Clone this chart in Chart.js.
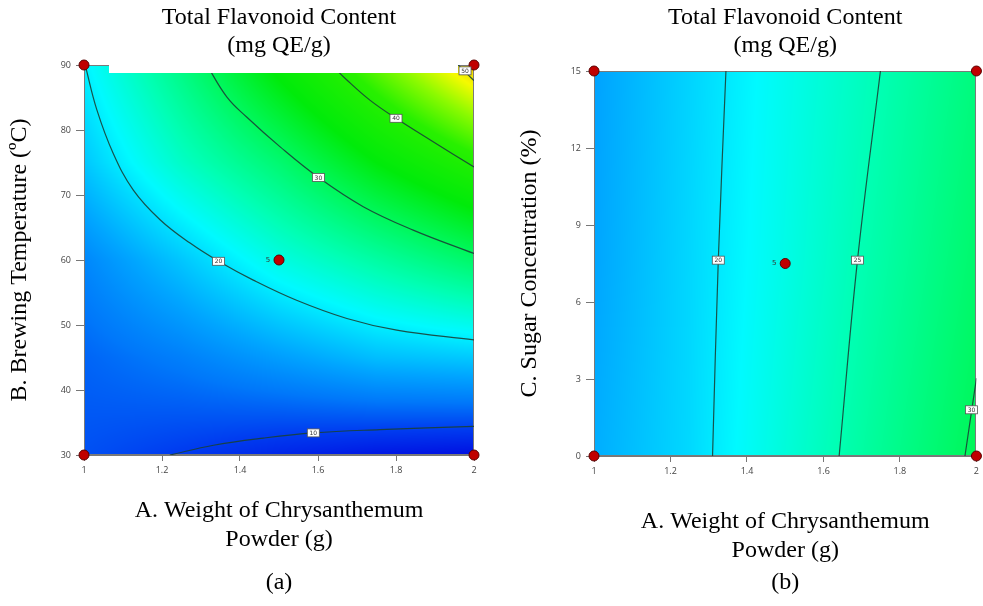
<!DOCTYPE html>
<html>
<head>
<meta charset="utf-8">
<script src="https://cdn.jsdelivr.net/npm/chart.js@4"></script>
<style>
  html, body { margin: 0; padding: 0; background: #fff; }
  .panel { position: absolute; top: 0; }
  #panelA { left: 0; }
  #panelB { left: 491px; }
</style>
</head>
<body>
<div class="panel" id="panelA"><canvas id="chartA" width="491" height="606"></canvas></div>
<div class="panel" id="panelB"><canvas id="chartB" width="492" height="606"></canvas></div>
<script>
// axis ticks
const weightTicks = [1, 1.2, 1.4, 1.6, 1.8, 2];
const tempTicks = [30, 40, 50, 60, 70, 80, 90];
const sugarTicks = [0, 3, 6, 9, 12, 15];

// response surface (TFC, mg QE/g)
const gridWeight = [1, 1.25, 1.5, 1.75, 2];
const gridTemp = [30, 45, 60, 75, 90];
const tfcByTemp = [
  [11, 9.8, 8.5, 7.5, 7],
  [12, 13.5, 15.5, 17.5, 18.2],
  [14, 18, 22.5, 26, 29.5],
  [18, 24, 29, 35, 40],
  [20.5, 28, 36, 43.5, 51]
];
const gridSugar = [0, 7.5, 15];
const tfcBySugar = [
  [16.5, 19.1, 23.0, 26.8, 30.5],
  [16, 19, 22.3, 25.8, 29.3],
  [15.8, 18.8, 21.9, 25, 28.3]
];

// contour lines (a)
const contourA10 = [{x: 1.22, y: 30}, {x: 1.332, y: 31.5}, {x: 1.46, y: 32.6}, {x: 1.588, y: 33.4}, {x: 1.759, y: 33.9}, {x: 2, y: 34.4}];
const contourA20 = [{x: 1.003, y: 90}, {x: 1.033, y: 83.1}, {x: 1.075, y: 76.4}, {x: 1.126, y: 70.8}, {x: 1.195, y: 66.2}, {x: 1.272, y: 62.6}, {x: 1.345, y: 59.8}, {x: 1.434, y: 56.9}, {x: 1.545, y: 53.8}, {x: 1.674, y: 51.0}, {x: 1.802, y: 49.2}, {x: 2, y: 47.7}];
const contourA30 = [{x: 1.315, y: 90}, {x: 1.366, y: 85.1}, {x: 1.417, y: 82.0}, {x: 1.503, y: 77.4}, {x: 1.601, y: 72.7}, {x: 1.716, y: 68.2}, {x: 1.844, y: 64.6}, {x: 2, y: 61.0}];
const contourA40 = [{x: 1.635, y: 90}, {x: 1.674, y: 87.7}, {x: 1.733, y: 84.6}, {x: 1.8, y: 81.8}, {x: 1.887, y: 78.5}, {x: 2, y: 74.3}];
const contourA50 = [{x: 1.96, y: 90}, {x: 1.981, y: 88.7}, {x: 2, y: 87.6}];
const labelsA = [
  {x: 1.588, y: 33.4, text: "10"},
  {x: 1.345, y: 59.8, text: "20"},
  {x: 1.601, y: 72.7, text: "30"},
  {x: 1.8, y: 81.8, text: "40"},
  {x: 1.977, y: 89.1, text: "50"}
];

// contour lines (b)
const contourB20 = [{x: 1.31, y: 0}, {x: 1.325, y: 7.63}, {x: 1.345, y: 15}];
const contourB25 = [{x: 1.641, y: 0}, {x: 1.689, y: 7.63}, {x: 1.749, y: 15}];
const contourB30 = [{x: 1.97, y: 0}, {x: 2, y: 3.03}];
const labelsB = [
  {x: 1.325, y: 7.63, text: "20"},
  {x: 1.689, y: 7.63, text: "25"},
  {x: 1.987, y: 1.8, text: "30"}
];

// design points, centre point replicated 5 times
const designA = [{x: 1, y: 30}, {x: 2, y: 30}, {x: 1, y: 90}, {x: 2, y: 90}, {x: 1.5, y: 60}];
const designB = [{x: 1, y: 0}, {x: 2, y: 0}, {x: 1, y: 15}, {x: 2, y: 15}, {x: 1.5, y: 7.5}];
const centreRuns = 5;

const colourStops = [
  [7, [0, 15, 225]], [10, [0, 60, 240]], [13, [0, 120, 250]], [16, [0, 165, 255]],
  [19, [0, 215, 255]], [21, [0, 250, 255]], [25, [0, 255, 180]], [30, [0, 248, 95]],
  [35, [0, 235, 10]], [41, [40, 240, 0]], [45, [140, 250, 0]], [48.5, [245, 250, 0]], [52, [240, 185, 0]]
];

function colourFor(v) {
  if (v <= colourStops[0][0]) return colourStops[0][1];
  for (let i = 1; i < colourStops.length; i++) {
    if (v <= colourStops[i][0]) {
      const [v0, c0] = colourStops[i - 1];
      const [v1, c1] = colourStops[i];
      const t = (v - v0) / (v1 - v0);
      return [0, 1, 2].map(k => c0[k] + (c1[k] - c0[k]) * t);
    }
  }
  return colourStops[colourStops.length - 1][1];
}

function cell(axis, v) {
  let i = 0;
  while (i < axis.length - 2 && v > axis[i + 1]) i++;
  const t = Math.min(1, Math.max(0, (v - axis[i]) / (axis[i + 1] - axis[i])));
  return [i, t];
}

function sample(gx, gy, grid, x, y) {
  const [i, tx] = cell(gx, x);
  const [j, ty] = cell(gy, y);
  const a = grid[j][i] + (grid[j][i + 1] - grid[j][i]) * tx;
  const b = grid[j + 1][i] + (grid[j + 1][i + 1] - grid[j + 1][i]) * tx;
  return a + (b - a) * ty;
}

function makeSurface(gx, gy, grid, band, labels) {
  return {
    id: "surface",
    beforeDatasetsDraw(chart) {
      const {ctx, chartArea: a, scales} = chart;
      const w = Math.round(a.right - a.left), h = Math.round(a.bottom - a.top);
      const off = document.createElement("canvas");
      off.width = w; off.height = h;
      const octx = off.getContext("2d");
      const img = octx.createImageData(w, h);
      for (let py = 0; py < h; py++) {
        const yv = scales.y.getValueForPixel(a.top + py + 0.5);
        for (let px = 0; px < w; px++) {
          const xv = scales.x.getValueForPixel(a.left + px + 0.5);
          const c = colourFor(sample(gx, gy, grid, xv, yv));
          const k = (py * w + px) * 4;
          img.data[k] = c[0]; img.data[k + 1] = c[1]; img.data[k + 2] = c[2]; img.data[k + 3] = 255;
        }
      }
      octx.putImageData(img, 0, 0);
      ctx.drawImage(off, a.left, a.top);
      ctx.save();
      ctx.strokeStyle = "#7a7a7a";
      ctx.lineWidth = 1;
      ctx.strokeRect(a.left + 0.5, a.top + 0.5, w - 1, h - 1);
      ctx.restore();
    },
    afterDatasetsDraw(chart) {
      const {ctx, chartArea: a, scales} = chart;
      ctx.save();
      if (band) {
        ctx.fillStyle = "#fff";
        ctx.fillRect(a.left + band[0], a.top - 1, (a.right - a.left) - band[0] - band[1], band[2] + 1);
      }
      ctx.font = "6px 'DejaVu Sans'";
      ctx.textAlign = "center";
      ctx.textBaseline = "middle";
      labels.forEach(l => {
        const px = scales.x.getPixelForValue(l.x);
        const py = scales.y.getPixelForValue(l.y);
        ctx.fillStyle = "#fff";
        ctx.fillRect(px - 6, py - 4, 12, 8);
        ctx.strokeStyle = "#555";
        ctx.lineWidth = 0.8;
        ctx.strokeRect(px - 6, py - 4, 12, 8);
        ctx.fillStyle = "#333";
        ctx.fillText(l.text, px, py + 0.5);
      });
      // replicate count beside the centre point
      const pts = chart.data.datasets[0].data;
      const c = pts[pts.length - 1];
      ctx.font = "7px 'DejaVu Sans'";
      ctx.fillStyle = "#333";
      ctx.fillText(String(centreRuns), scales.x.getPixelForValue(c.x) - 11, scales.y.getPixelForValue(c.y));
      ctx.restore();
    }
  };
}

const serif = {family: "'Liberation Serif', 'Times New Roman', serif", size: 24, weight: "normal"};
const tickFont = {family: "'Open Sans', sans-serif", size: 9};
const lineColour = "rgba(25, 65, 55, 0.9)";

function contourSet(points) {
  return {data: points, showLine: true, pointRadius: 0, borderColor: lineColour, borderWidth: 1.2, tension: 0.4, fill: false};
}

function buildConfig(p) {
  return {
    type: "scatter",
    data: {
      datasets: [
        {data: p.design, pointRadius: 5, backgroundColor: "#c00000", borderColor: "#5a0000", borderWidth: 1, clip: false}
      ].concat(p.contours.map(contourSet))
    },
    options: {
      responsive: false,
      animation: false,
      events: [],
      layout: {autoPadding: false, padding: {left: 0, right: p.padRight, top: 0, bottom: 0}},
      plugins: {
        legend: {display: false},
        tooltip: {enabled: false},
        title: {
          display: true, fullSize: false,
          text: ["Total Flavonoid Content", "(mg QE/g)"],
          font: serif, color: "#000",
          padding: {top: 3, bottom: p.titleGap}
        },
        subtitle: {
          display: true, fullSize: false, position: "bottom",
          text: p.caption, font: serif, color: "#000",
          padding: {top: p.captionTop, bottom: 8.6}
        }
      },
      scales: {
        x: {
          type: "linear", min: 1, max: 2,
          afterBuildTicks: s => { s.ticks = weightTicks.map(v => ({value: v})); },
          afterFit: s => { s.height = p.xHeight; },
          ticks: {font: tickFont, color: "#444", padding: 4, callback: v => String(v)},
          grid: {drawOnChartArea: false, tickLength: 6, color: "#777"},
          border: {color: "#777"},
          title: {
            display: true, text: ["A. Weight of Chrysanthemum", "Powder (g)"],
            font: serif, color: "#000", padding: {top: 0, bottom: p.xTitleBottom}
          }
        },
        y: {
          type: "linear", min: p.yTicks[0], max: p.yTicks[p.yTicks.length - 1],
          afterBuildTicks: s => { s.ticks = p.yTicks.map(v => ({value: v})); },
          afterFit: s => { s.width = p.yWidth; },
          ticks: {font: tickFont, color: "#444", padding: 5, callback: v => String(v)},
          grid: {drawOnChartArea: false, tickLength: 8, color: "#777"},
          border: {color: "#777"},
          title: {
            display: true, text: p.yTitle,
            font: serif, color: "#000", padding: {top: p.yTitleTop, bottom: 0}
          }
        }
      }
    },
    plugins: [makeSurface(gridWeight, p.gridY, p.grid, p.band, p.labels)]
  };
}

new Chart(document.getElementById("chartA"), buildConfig({
  design: designA,
  contours: [contourA10, contourA20, contourA30, contourA40, contourA50],
  labels: labelsA,
  gridY: gridTemp, grid: tfcByTemp,
  band: [25, 16, 8],
  yTicks: tempTicks,
  yTitle: "B. Brewing Temperature (\u00baC)",
  caption: "(a)",
  padRight: 17, yWidth: 84, yTitleTop: 5.6,
  titleGap: 4.4, xHeight: 103.2, xTitleBottom: 4, captionTop: 10.4
}));

new Chart(document.getElementById("chartB"), buildConfig({
  design: designB,
  contours: [contourB20, contourB25, contourB30],
  labels: labelsB,
  gridY: gridSugar, grid: tfcBySugar,
  band: null,
  yTicks: sugarTicks,
  yTitle: "C. Sugar Concentration (%)",
  caption: "(b)",
  padRight: 4, yWidth: 103, yTitleTop: 24.6,
  titleGap: 10.4, xHeight: 109.2, xTitleBottom: 0, captionTop: 3.4
}));
</script>
</body>
</html>
